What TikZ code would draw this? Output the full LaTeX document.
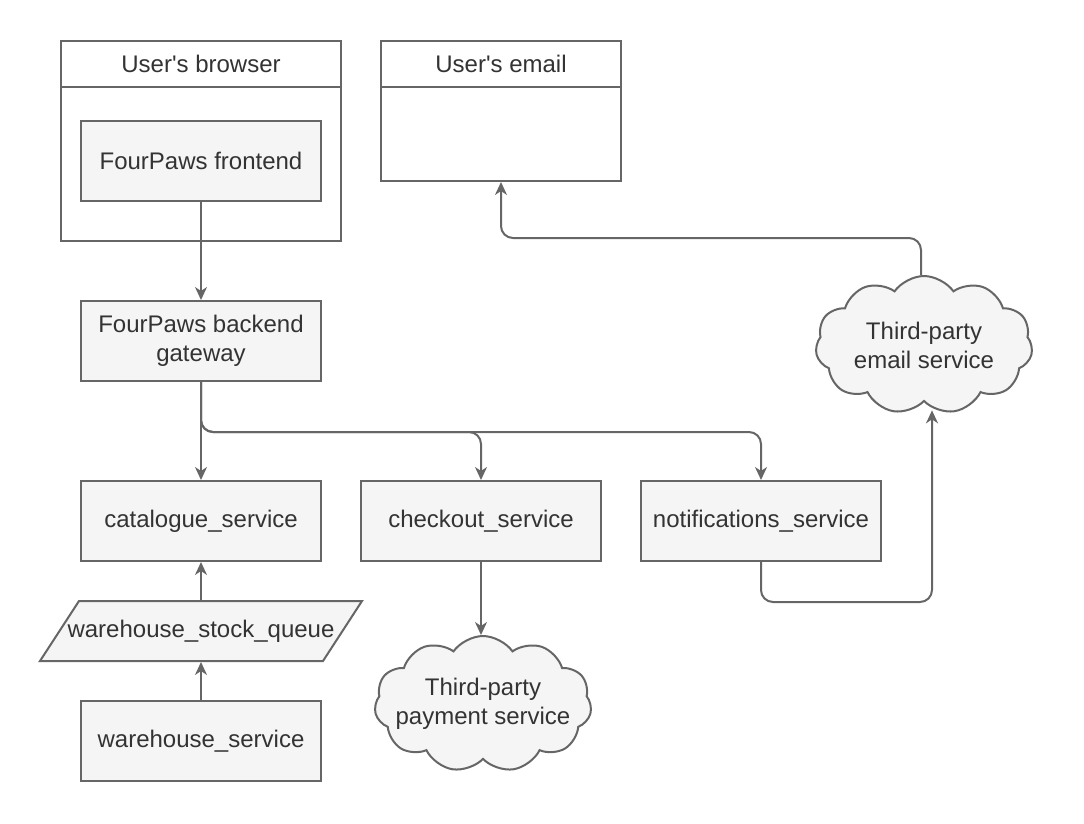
\documentclass[tikz,border=0pt]{standalone}
\usepackage{fontspec}
\setmainfont{Liberation Sans}
\usetikzlibrary{arrows.meta,positioning,shapes.symbols,backgrounds}
\definecolor{linegray}{HTML}{666666}
\definecolor{boxfill}{HTML}{F5F5F5}
\definecolor{textgray}{HTML}{333333}
\tikzstyle{service}=[rectangle,draw=linegray,line width=2pt,fill=boxfill,text=textgray,minimum width=240pt,minimum height=80pt,align=center]
\tikzstyle{lane}=[rectangle,draw=linegray,line width=2pt,fill=white,minimum width=280pt,minimum height=200pt]
\tikzstyle{lanetitle}=[rectangle,draw=linegray,line width=2pt,text=textgray,anchor=north,minimum height=46pt]
\tikzstyle{queue}=[rectangle,text=textgray,minimum width=320pt,minimum height=60pt,inner sep=0pt,outer sep=1pt]
\tikzstyle{queueedge}=[draw=linegray,line width=2pt,fill=boxfill,line join=miter]
\tikzstyle{external}=[cloud,cloud puffs=11,cloud puff arc=110,aspect=1.6,draw=linegray,line width=2pt,fill=boxfill,minimum width=217pt,minimum height=136pt]
\tikzstyle{flow}=[-{Stealth[length=13pt,width=12pt,inset=4pt]},draw=linegray,line width=2pt,rounded corners=12pt]

\begin{document}
\begin{tikzpicture}[x=1pt,y=-1pt,font=\fontsize{24}{29}\selectfont,
                    every label/.style={text=textgray,align=center}]
  \useasboundingbox (0,0) rectangle (1084,824);

  % browser and mailbox
  \node[lane]                                     (browser)      at (201,141) {};
  \node[lanetitle,minimum width=280pt]            (browsertitle) at (browser.north) {User\textquotesingle s browser};
  \node[lane,minimum width=240pt,minimum height=140pt] (email)   at (501,111) {};
  \node[lanetitle,minimum width=240pt]            (emailtitle)   at (email.north) {User\textquotesingle s email};

  % services
  \node[service]   (front)                          at (201,161) {FourPaws frontend};
  \node[service]   (gateway)   [below=98pt of front]     {FourPaws backend\\gateway};
  \node[service]   (catalogue) [below=98pt of gateway]   {catalogue\_service};
  \node[service]   (checkout)  [right=38pt of catalogue]  {checkout\_service};
  \node[service]   (notify)    [right=38pt of checkout]   {notifications\_service};
  \node[queue]     (stockq)    [below=38pt of catalogue]  {warehouse\_stock\_queue};
  \node[service]   (warehouse) [below=38pt of stockq]     {warehouse\_service};
  \begin{scope}[on background layer]
    \path[queueedge] ([xshift=39pt,yshift=-1pt]stockq.north west) -- ([yshift=-1pt]stockq.north east)
      -- ([xshift=-39pt,yshift=1pt]stockq.south east) -- ([yshift=1pt]stockq.south west) -- cycle;
  \end{scope}

  % third parties
  \node[external,label=center:{Third-party\\payment service}] (payment) at (483,704) {};
  \node[external,minimum height=138pt,label=center:{Third-party\\email service}] (mailsvc) at (924,345) {};

  \draw[flow] (front) -- (gateway);
  \draw[flow] (gateway) -- (catalogue);
  \draw[flow] (gateway.south) -- ++(0,50) -| (checkout.north);
  \draw[flow] (gateway.south) -- ++(0,50) -| (notify.north);
  \draw[flow] (checkout.south) -- (checkout.south |- payment.north);
  \draw[flow] (stockq) -- (catalogue);
  \draw[flow] (warehouse) -- (stockq);
  \draw[flow] (notify.south) -- ++(0,40) -| ([xshift=8pt,yshift=-8pt]mailsvc.south);
  \draw[flow] ([xshift=-3pt]mailsvc.north) -- ++(0,-37) -| (email.south);
\end{tikzpicture}
\end{document}
